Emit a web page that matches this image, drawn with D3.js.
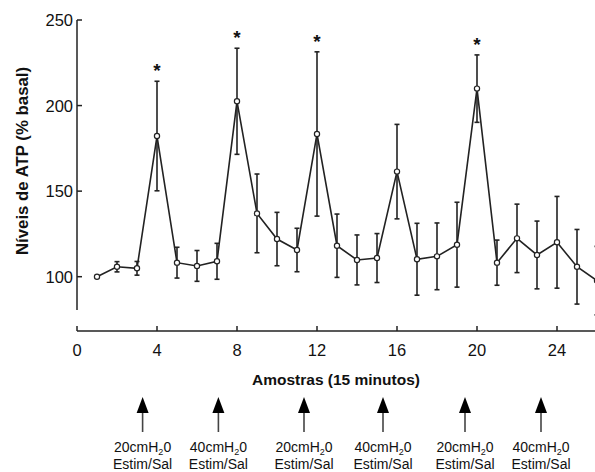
<!DOCTYPE html>
<html><head><meta charset="utf-8">
<script src="https://cdn.jsdelivr.net/npm/d3@7"></script>
<style>body{margin:0;background:#fff}svg{display:block}text{font-family:"Liberation Sans",Arial,sans-serif}</style>
</head><body><svg id="c" width="595" height="472"></svg>
<script>
const samples = [1,2,3,4,5,6,7,8,9,10,11,12,13,14,15,16,17,18,19,20,21,22,23,24,25,26];
const means =   [100,105.8,104.9,182.2,108.2,106.3,109,202.5,137,122,115.6,183.4,118.1,109.8,110.9,161.4,110.2,111.9,118.7,209.9,108.2,122.4,112.7,120.1,105.8,97.7];
const errs =    [0,3,4,32,9,9,10.5,31,23,15.6,12.7,48,18.5,14.6,14.3,27.6,21,19.5,24.8,19.7,13.2,20,19.8,26.8,21.8,20];
const starred = [4,8,12,20];
const xTicks = [0,4,8,12,16,20,24];
const yTicks = [100,150,200,250];
const stimPos = [3.28,7.07,11.35,15.3,19.4,23.2];
const stimLine1 = ["20cmH","40cmH","20cmH","40cmH","20cmH","40cmH"];
const stimLine2 = "Estim/Sal";

const svg = d3.select("#c");
const x = d3.scaleLinear().domain([0,25.9]).range([77,595]);
const y = d3.scaleLinear().domain([100,250]).range([276.7,20]);
const col = "#222";

svg.append("clipPath").attr("id","clip").append("rect").attr("x",0).attr("y",0).attr("width",595).attr("height",330);

// Y axis
const yAxis = svg.append("g").attr("transform","translate(77,0)");
yAxis.append("line").attr("x1",0).attr("x2",0).attr("y1",y(250)).attr("y2",310).attr("stroke",col).attr("stroke-width",1.5);
yTicks.forEach(t=>{
  yAxis.append("line").attr("x1",0).attr("x2",5).attr("y1",y(t)).attr("y2",y(t)).attr("stroke",col).attr("stroke-width",1.5);
  yAxis.append("text").attr("x",-4).attr("y",y(t)).attr("dy","0.36em").attr("text-anchor","end").attr("font-size",16.5).attr("fill","#111").text(t);
});

// X axis
const xg = svg.append("g").attr("transform","translate(0,331)");
xg.append("line").attr("x1",77).attr("x2",595).attr("y1",0).attr("y2",0).attr("stroke",col).attr("stroke-width",1.5);
xTicks.forEach(t=>{
  xg.append("line").attr("x1",x(t)).attr("x2",x(t)).attr("y1",0).attr("y2",-5).attr("stroke",col).attr("stroke-width",1.5);
  xg.append("text").attr("x",x(t)).attr("y",25).attr("text-anchor","middle").attr("font-size",16.5).attr("fill","#111").text(t);
});

// titles
svg.append("text").attr("x",336).attr("y",385).attr("text-anchor","middle").attr("font-size",15.5).attr("font-weight","bold").attr("fill","#111").text("Amostras (15 minutos)");
svg.append("text").attr("transform","translate(28,161) rotate(-90)").attr("text-anchor","middle").attr("font-size",16.8).attr("font-weight","bold").attr("fill","#111").text("Níveis de ATP (% basal)");

const plot = svg.append("g").attr("clip-path","url(#clip)");
samples.forEach((s,i)=>{
  if(errs[i]<=0) return;
  const cx = x(s);
  plot.append("line").attr("x1",cx).attr("x2",cx).attr("y1",y(means[i]+errs[i])).attr("y2",y(means[i]-errs[i])).attr("stroke",col).attr("stroke-width",1.6);
  [means[i]+errs[i], means[i]-errs[i]].forEach(v=>{
    plot.append("line").attr("x1",cx-2.5).attr("x2",cx+2.5).attr("y1",y(v)).attr("y2",y(v)).attr("stroke",col).attr("stroke-width",1.6);
  });
});
plot.append("path").datum(samples.map((s,i)=>[s,means[i]]))
  .attr("d",d3.line().x(d=>x(d[0])).y(d=>y(d[1])))
  .attr("fill","none").attr("stroke",col).attr("stroke-width",1.6);
plot.selectAll("circle").data(samples.map((s,i)=>[s,means[i]])).join("circle")
  .attr("cx",d=>x(d[0])).attr("cy",d=>y(d[1])).attr("r",2.6)
  .attr("fill","#fff").attr("stroke",col).attr("stroke-width",1.2);
starred.forEach(s=>{
  const i = samples.indexOf(s);
  svg.append("text").attr("x",x(s)).attr("y",y(means[i]+errs[i])-4).attr("text-anchor","middle").attr("font-size",19).attr("font-weight","bold").attr("fill","#111").text("*");
});

// stimulation arrows
const arr = svg.append("g");
stimPos.forEach((p,i)=>{
  const cx = x(p);
  arr.append("line").attr("x1",cx).attr("x2",cx).attr("y1",410).attr("y2",432).attr("stroke","#444").attr("stroke-width",1.6);
  arr.append("path").attr("d",`M${cx-6},413 L${cx},397 L${cx+6},413 Z`).attr("fill","#000");
  const t1 = arr.append("text").attr("x",cx).attr("y",451.5).attr("text-anchor","middle").attr("font-size",14).attr("fill","#111");
  t1.append("tspan").text(stimLine1[i]);
  t1.append("tspan").attr("font-size",9).attr("dy",3).text("2");
  t1.append("tspan").attr("dy",-3).text("0");
  arr.append("text").attr("x",cx).attr("y",468.5).attr("text-anchor","middle").attr("font-size",14).attr("fill","#111").text(stimLine2);
});
</script></body></html>
